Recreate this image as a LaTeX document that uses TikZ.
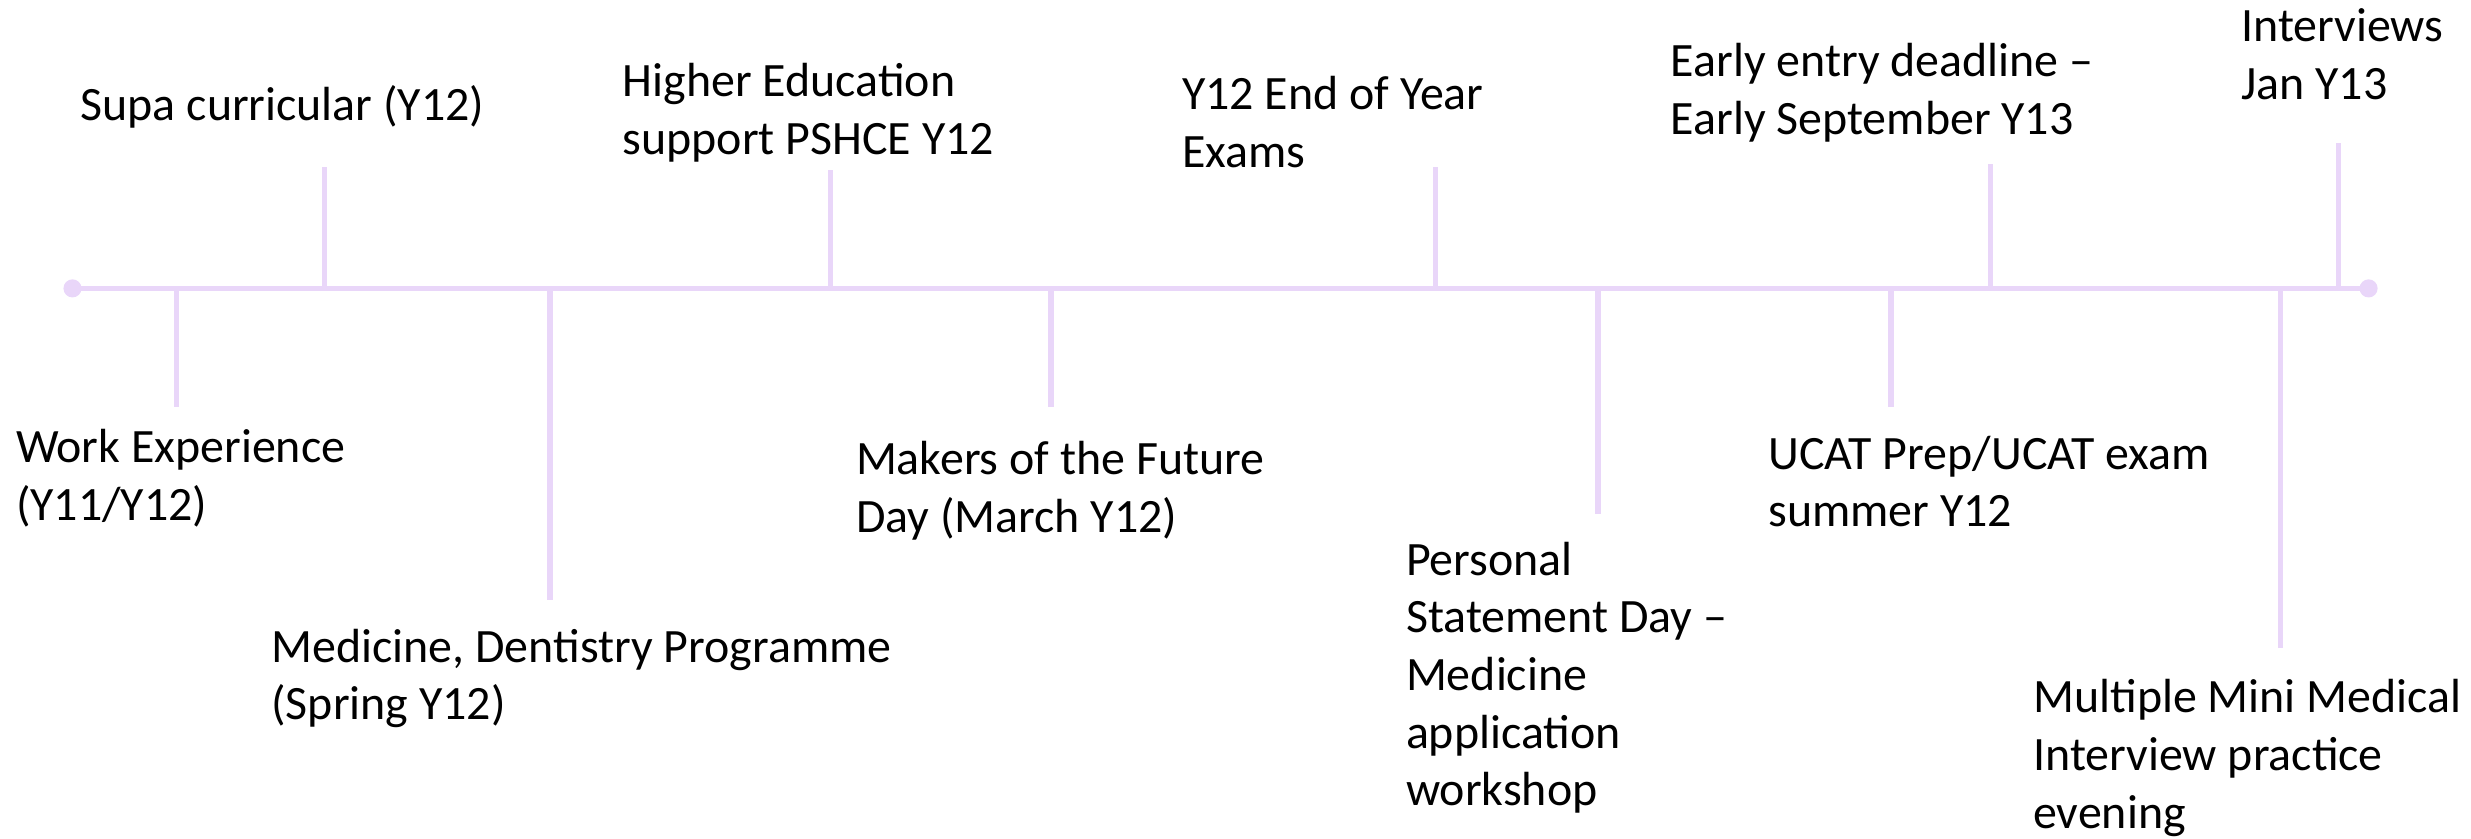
\documentclass[tikz,border=0pt]{standalone}
\usepackage{fontspec}
\setmainfont{Carlito}
\definecolor{lav}{RGB}{233,214,249}
\begin{document}
\begin{tikzpicture}[x=1pt,y=-1pt,
  tl/.style={draw=lav,line width=3.6pt},
  tick/.style={draw=lav,line width=3.6pt},
  dotn/.style={circle,fill=lav,inner sep=0pt,minimum size=11.5pt},
  lbl/.style={anchor=west,align=left,inner sep=0pt,font=\fontsize{30.4}{36.6}\selectfont}]
\useasboundingbox (0,0) rectangle (1568,532);
% main line
\node[dotn] (s) at (46,183) {};
\node[dotn] (e) at (1503,183) {};
\draw[tl] (s.center) -- (e.center);
% ticks
\foreach \n/\x/\y in {a/112/258, b/206/106, c/349/381, d/527/108, f/667/258, g/911/106, h/1014/326, i/1200/258, j/1263/104, k/1447/411, l/1484/91}{
  \coordinate (\n0) at (\x,183);
  \coordinate (\n1) at (\x,\y);
  \draw[tick] (\n0) -- (\n1);
}
% labels
\node[lbl] (sup) at (51,68) {Supa curricular (Y12)};
\node[lbl] (he) at (395,71.5) {Higher Education\\support PSHCE Y12};
\node[lbl] (y12) at (750,77.5) {Y12 End of Year\\Exams};
\node[lbl] (early) at (1060,59) {Early entry deadline –\\Early September Y13};
\node[lbl] (int) at (1422,34.5) {Interviews\\Jan Y13};
\node[lbl] (we) at (10,303.5) {Work Experience\\(Y11/Y12)};
\node[lbl] (med) at (172,430.5) {Medicine, Dentistry Programme\\(Spring Y12)};
\node[lbl] (mak) at (543,311.5) {Makers of the Future\\Day (March Y12)};
\node[lbl] (ps) at (892,430) {Personal\\Statement Day –\\Medicine\\application\\workshop};
\node[lbl] (ucat) at (1122,305.5) {UCAT Prep/UCAT exam\\summer Y12};
\node[lbl] (mmi) at (1290,481) {Multiple Mini Medical\\Interview practice\\evening};
\end{tikzpicture}
\end{document}
